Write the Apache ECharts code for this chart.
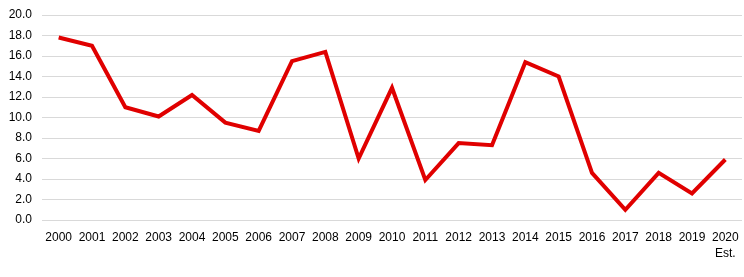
<!DOCTYPE html>
<html><head><meta charset="utf-8">
<script src="https://cdn.jsdelivr.net/npm/echarts@6/dist/echarts.min.js"></script>
<style>html,body{margin:0;padding:0;background:#fff}#c{width:744px;height:277px}</style>
</head><body><div id="c"></div>
<script>
var categories = ['2000','2001','2002','2003','2004','2005','2006','2007','2008','2009','2010','2011','2012','2013','2014','2015','2016','2017','2018','2019','2020\nEst.'];
var values = [17.8,17.0,11.0,10.1,12.2,9.5,8.7,15.5,16.4,6.0,12.9,3.9,7.5,7.3,15.4,14.0,4.6,1.0,4.6,2.6,5.9];
var yMin = 0, yMax = 20, yStep = 2;
var chart = echarts.init(document.getElementById('c'), null, {renderer:'canvas'});
chart.setOption({
  animation:false,
  grid:{left:42,right:2,top:15,bottom:57},
  xAxis:{type:'category',data:categories,boundaryGap:true,
    axisLine:{show:false},axisTick:{show:false},
    axisLabel:{color:'#000',fontFamily:'Liberation Sans, Arial',fontSize:12,margin:10,interval:0,lineHeight:16}},
  yAxis:{type:'value',min:yMin,max:yMax,interval:yStep,
    axisLine:{show:false},axisTick:{show:false},
    splitLine:{lineStyle:{color:'#d9d9d9',width:1}},
    axisLabel:{color:'#000',fontFamily:'Liberation Sans, Arial',fontSize:12,margin:10,formatter:function(v){return v.toFixed(1);}}},
  series:[{type:'line',data:values,symbol:'none',lineStyle:{color:'#e00000',width:4,join:'miter'}}]
});
</script></body></html>
